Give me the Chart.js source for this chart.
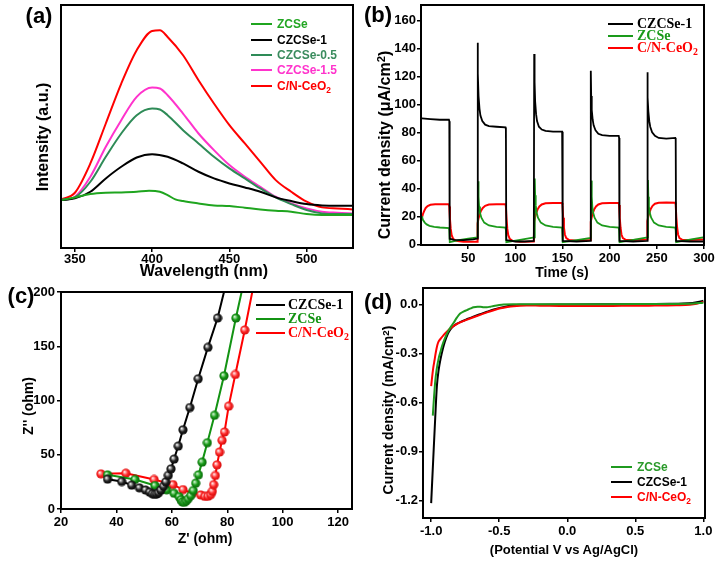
<!DOCTYPE html>
<html><head><meta charset="utf-8">
<script src="https://cdn.jsdelivr.net/npm/chart.js@4.4.0/dist/chart.umd.min.js"></script>
<style>
html,body{margin:0;padding:0;background:#fff;}
#wrap{position:relative;width:720px;height:561px;overflow:hidden;font-family:"Liberation Sans",Arial,sans-serif;color:#000;}
canvas{position:absolute;}
.t{position:absolute;white-space:nowrap;font-weight:bold;line-height:1;}
.ctr{transform:translate(-50%,-50%);}
.rot{transform:translate(-50%,-50%) rotate(-90deg);}
.lt{position:absolute;white-space:nowrap;font-weight:bold;line-height:1;transform:translateY(-50%);}
.ln{position:absolute;height:2px;}
sup{font-size:0.7em;vertical-align:0.45em;line-height:0;}
sub{font-size:0.7em;vertical-align:-0.3em;line-height:0;}
</style></head>
<body>
<div id="wrap">
<canvas id="ca" width="360" height="280" style="left:0;top:0"></canvas>
<canvas id="cb" width="360" height="280" style="left:360px;top:0"></canvas>
<canvas id="cc" width="360" height="281" style="left:0;top:280px"></canvas>
<canvas id="cd" width="360" height="281" style="left:360px;top:280px"></canvas>

<div class="t ctr" style="left:39px;top:16px;font-size:22px">(a)</div>
<div class="t rot" style="left:43px;top:137px;font-size:16px">Intensity (a.u.)</div>
<div class="t ctr" style="left:204px;top:271px;font-size:16px">Wavelength (nm)</div>

<div class="t ctr" style="left:378px;top:15px;font-size:22px">(b)</div>
<div class="t rot" style="left:385px;top:145px;font-size:16px">Current density (μA/cm<sup>2</sup>)</div>
<div class="t ctr" style="left:562px;top:272px;font-size:14px">Time (s)</div>

<div class="t ctr" style="left:21px;top:296px;font-size:22px">(c)</div>
<div class="t rot" style="left:28px;top:406px;font-size:14px">Z'' (ohm)</div>
<div class="t ctr" style="left:205px;top:538px;font-size:14px">Z' (ohm)</div>

<div class="t ctr" style="left:378px;top:302px;font-size:22px">(d)</div>
<div class="t rot" style="left:388px;top:410px;font-size:14px">Current density (mA/cm<sup>2</sup>)</div>
<div class="t ctr" style="left:564px;top:549px;font-size:13px">(Potential V vs Ag/AgCl)</div>
</div>
<script>
// ---------- Panel (a): PL spectra ----------
const aNames = ['ZCSe','CZCSe-1','CZCSe-0.5','CZCSe-1.5','C/N-CeO2'];
const aZCSe  = [[341,144],[350,152],[360,162],[370,166],[380,167],[390,169],[398,172],[405,169],[410,159],[415,146],[420,141],[430,134],[440,128],[450,126],[460,121],[470,116],[480,112],[490,109],[500,102],[510,99],[520,99],[530,99]];
const aCZCSe1 = [[341,144],[350,149],[360,169],[370,209],[380,244],[390,272],[400,282],[410,274],[420,254],[430,229],[440,209],[450,194],[460,182],[470,169],[480,152],[490,141],[500,132],[510,128],[520,127],[530,127]];
const aCZCSe05 = [[341,144],[350,152],[360,199],[370,274],[380,344],[390,399],[400,419],[405,416],[410,399],[420,354],[430,314],[440,274],[450,239],[460,209],[470,179],[480,152],[490,132],[500,114],[510,104],[520,102],[530,102]];
const aCZCSe15 = [[341,144],[350,154],[360,214],[370,304],[380,384],[390,454],[400,482],[405,479],[410,459],[420,404],[430,344],[440,294],[450,249],[460,214],[470,184],[480,154],[490,134],[500,119],[510,109],[520,106],[530,104]];
const aCeO2 = [[341,146],[350,166],[360,254],[370,374],[380,494],[390,594],[400,652],[405,654],[410,634],[420,579],[430,504],[440,434],[450,369],[460,314],[470,259],[480,204],[490,169],[500,139],[510,122],[520,119],[530,116]];
const aXTicks = [350,400,450,500];
const aXLabels = ['350','400','450','500'];

// ---------- Panel (b): photocurrent ----------
const bNames = ['CZCSe-1','ZCSe','C/N-CeO2'];
const bCZCSe1 = [[1,90],[10,89.5],[20,89],[29.6,89],[30,88],[30.4,4],[35,3.2],[45,3],[55,3.5],[59.6,4],
[60,144],[60.4,122],[61,106],[62,97],[63,92],[65,88],[68,85.5],[72,84.5],[80,84],[89.6,83.5],
[90,82],[90.4,3],[100,2],[110,2],[119.6,2.5],
[120,136],[120.4,116],[121,102],[122,93],[123,88],[125,84],[128,82],[132,81],[140,80.5],[149.6,80.5],
[150,79],[150.4,2.5],[165,2],[179.6,2.5],
[180,124],[180.4,106],[181,96],[182,89],[183,85],[185,81.5],[188,79],[192,78],[200,77.5],[209.6,77.5],
[210,76],[210.4,2.5],[225,2],[239.6,2.5],
[240,123],[240.4,105],[241,95],[242,88],[243,84],[245,80],[248,77.5],[252,76],[260,75.5],[269.6,76],
[270,75],[270.4,2.5],[285,2],[299,2]];
const bZCSe = [[1,20],[2,17.5],[4,15.5],[6,14.2],[9,13.2],[14,12.5],[20,12],[29.6,11.5],[30,10],[30.5,1.5],[40,3],[50,4],[60,5],
[60.6,45],[61,34],[61.6,27],[62.5,22.5],[64,19],[67,15.5],[72,13.5],[80,12.5],[89.6,12],[90,10],[90.5,1.5],[105,3.2],[120,5],
[120.6,47],[121,35],[121.6,28],[122.5,23],[124,19],[127,15.5],[132,13.5],[140,12.5],[149.6,12],[150,10],[150.5,1.5],[165,3],[180,4.5],
[180.6,45.5],[181,34],[181.6,27],[182.5,22.5],[184,19],[187,15.5],[192,13.5],[200,12.5],[209.6,12],[210,10],[210.5,1.5],[225,3.2],[240,5],
[240.6,46],[241,34],[241.6,27],[242.5,22.5],[244,19],[247,15.5],[252,13.5],[260,12.5],[269.6,12],[270,10],[270.5,1.5],[285,3.3],[299,5]];
const bCeO2 = [[1,19],[2,21.5],[3.5,24],[5,26],[7,27.3],[10,28.2],[15,28.6],[29.6,28.6],[30,27],[30.7,18],[31.5,11],[32.5,6.5],[34,4],[37,2.5],[45,1.8],[59.6,1.8],
[60,15],[61,18.5],[62,21],[63.5,23.8],[65.5,26],[68,27.5],[72,28.4],[80,28.7],[89.6,28.7],[90,27],[90.7,18],[91.5,11],[92.5,6.5],[94,4],[97,2.5],[105,1.8],[119.6,2],
[120,16],[121,19.5],[122,22],[123.5,24.8],[125.5,27],[128,28.5],[132,29.3],[140,29.6],[149.6,29.5],[150,28],[150.7,19],[151.5,12],[152.5,7],[154,4.5],[157,3],[165,2.5],[179.6,3],
[180,16],[181,19.5],[182,22],[183.5,24.8],[185.5,27],[188,28.5],[192,29.3],[200,29.6],[209.6,29.5],[210,28],[210.7,19],[211.5,12],[212.5,7],[214,4.5],[217,3.2],[225,3],[239.6,3.5],
[240,16.5],[241,20],[242,22.5],[243.5,25.2],[245.5,27.5],[248,29],[252,29.7],[260,29.9],[269.6,29.7],[270,28],[270.7,19],[271.5,12],[272.5,7],[274,4.5],[277,3.2],[285,3],[299,3.5]];
const bXTicks = [50,100,150,200,250,300];
const bXLabels = ['50','100','150','200','250','300'];
const bYTicks = [0,20,40,60,80,100,120,140,160];
const bYLabels = ['0','20','40','60','80','100','120','140','160'];

// ---------- Panel (c): Nyquist ----------
const cNames = ['CZCSe-1','ZCSe','C/N-CeO2'];
const cCZCSe1 = [[36.8,27.5],[41.9,25.3],[45.5,22],[48.3,19.5],[50.5,17.5],[52,15.5],[53,14],[53.8,13.5],[54.5,13.8],[55.2,15],[56,17.5],[57,21],[57.8,25],[58.7,31],[59.7,37],[60.8,46],[62.3,58],[64,73],[66.5,93.5],[69.5,120],[73,149],[76.5,176],[79.3,205]];
const cZCSe = [[36.8,31.5],[46.7,27.2],[53.9,21.6],[58.1,17.6],[60.8,14.5],[62.6,11.4],[63.3,8.5],[63.8,6.5],[64.5,6.2],[65.2,7.5],[65.9,9.5],[66.8,12.3],[67.7,17],[68.6,23.8],[69.6,31.5],[70.9,43.2],[72.8,61.1],[75.4,86.4],[78.8,122.8],[83.1,176],[85.6,205]];
const cCeO2 = [[34.4,32.4],[43.4,33],[53.6,27.2],[60.4,22.5],[64,17.9],[67.4,14.5],[70.4,13],[71.9,11.6],[73,11.7],[74,13.3],[74.6,16.4],[75.1,22.5],[75.7,30.9],[76.3,40.7],[77.2,52.5],[78.1,63.3],[79,71],[80.5,94.8],[82.9,124],[86.3,165],[89.4,205]];
const cXTicks = [20,40,60,80,100,120];
const cXLabels = ['20','40','60','80','100','120'];
const cYTicks = [0,50,100,150,200];
const cYLabels = ['0','50','100','150','200'];

// ---------- Panel (d): LSV ----------
const dNames = ['ZCSe','CZCSe-1','C/N-CeO2'];
const dZCSe = [[-0.988,-0.68],[-0.98,-0.58],[-0.97,-0.47],[-0.96,-0.4],[-0.945,-0.33],[-0.93,-0.285],[-0.92,-0.255],[-0.9,-0.21],[-0.88,-0.172],[-0.86,-0.143],[-0.836,-0.114],[-0.81,-0.08],[-0.787,-0.056],[-0.76,-0.043],[-0.738,-0.035],[-0.71,-0.025],[-0.689,-0.018],[-0.66,-0.014],[-0.64,-0.014],[-0.615,-0.017],[-0.59,-0.018],[-0.565,-0.014],[-0.542,-0.01],[-0.5,-0.004],[-0.468,-0.001],[-0.4,0],[0,0],[0.5,0.002],[0.9,0.004],[1.0,0.01]];
const dCZCSe1 = [[-1.0,-1.215],[-0.985,-0.95],[-0.97,-0.69],[-0.958,-0.5],[-0.945,-0.4],[-0.93,-0.33],[-0.915,-0.275],[-0.9,-0.23],[-0.88,-0.185],[-0.86,-0.155],[-0.84,-0.136],[-0.81,-0.118],[-0.78,-0.106],[-0.74,-0.092],[-0.69,-0.075],[-0.64,-0.06],[-0.59,-0.045],[-0.54,-0.031],[-0.49,-0.02],[-0.44,-0.011],[-0.4,-0.006],[-0.35,-0.003],[-0.25,-0.002],[0,-0.001],[0.25,0],[0.5,0.001],[0.75,0.003],[0.85,0.005],[0.92,0.009],[0.96,0.014],[1.0,0.022]];
const dCeO2 = [[-1.0,-0.5],[-0.995,-0.46],[-0.985,-0.39],[-0.975,-0.34],[-0.965,-0.29],[-0.955,-0.25],[-0.946,-0.228],[-0.93,-0.21],[-0.909,-0.188],[-0.885,-0.167],[-0.86,-0.147],[-0.825,-0.127],[-0.787,-0.11],[-0.74,-0.095],[-0.689,-0.079],[-0.64,-0.064],[-0.59,-0.049],[-0.54,-0.036],[-0.49,-0.024],[-0.44,-0.016],[-0.395,-0.011],[-0.3,-0.007],[-0.2,-0.008],[0,-0.01],[0.2,-0.01],[0.4,-0.009],[0.6,-0.008],[0.8,-0.006],[0.9,-0.003],[0.95,0.003],[1.0,0.015]];
const dXTicks = [-1.0,-0.5,0,0.5,1.0];
const dXLabels = ['-1.0','-0.5','0.0','0.5','1.0'];
const dYTicks = [0,-0.3,-0.6,-0.9,-1.2];
const dYLabels = ['0.0','-0.3','-0.6','-0.9','-1.2'];

// ---------- helpers ----------
const SANS = '"Liberation Sans", Arial, sans-serif';
const SERIF = '"Liberation Serif", "Times New Roman", serif';
const RED = '#ff0000', BLACK = '#000000';
const framePlugin = {id:'frame', afterDatasetsDraw(c){const a=c.chartArea,x=c.ctx;x.save();x.strokeStyle='#000';x.lineWidth=2;x.strokeRect(a.left,a.top,a.right-a.left,a.bottom-a.top);x.restore();}};
const xy = arr => arr.map(p => ({x:p[0], y:p[1]}));
function fitTo(size, horiz){return s=>{ if(horiz) s.height=size; else s.width=size; s.paddingTop=0;s.paddingBottom=0;s.paddingLeft=0;s.paddingRight=0; };}
function setTicks(vals){return s=>{ s.ticks = vals.map(v=>({value:v})); };}
const gridOpt = {display:true,drawOnChartArea:false,drawTicks:true,tickLength:4,color:'#000',lineWidth:1.5};
function axis(min,max,vals,labels,size,horiz,fs,pad){
  return {type:'linear',min,max,afterBuildTicks:setTicks(vals),afterFit:fitTo(size,horiz),grid:gridOpt,border:{display:false},
    ticks:{autoSkip:false,maxRotation:0,padding:pad,color:'#000',font:{family:SANS,size:fs,weight:'bold'},callback:(v,i)=>labels[i]}};
}
function opts(pad, scales){return {responsive:false,animation:false,devicePixelRatio:1,events:[],layout:{padding:pad},
  plugins:{legend:{display:false},tooltip:{enabled:false}},scales};}
function lineDs(data,color,tension,w){return {data:xy(data),borderColor:color,backgroundColor:color,borderWidth:w||2,showLine:true,pointRadius:0,tension:tension,cubicInterpolationMode:tension?'monotone':'default'};}
function sphere(base, light, dark){const c=document.createElement('canvas');c.width=c.height=10;const g=c.getContext('2d');
  const gr=g.createRadialGradient(3.6,3.6,0.2,5,5,5.2);gr.addColorStop(0,light);gr.addColorStop(0.5,base);gr.addColorStop(1,dark);
  g.fillStyle=gr;g.beginPath();g.arc(5,5,4.6,0,Math.PI*2);g.fill();return c;}
function subHTML(s){return s.replace('CeO2','CeO<sub>2</sub>');}
function legend(names, colors, textColors, x0, x1, tx, ys, fs, fam){
  const w=document.getElementById('wrap');
  names.forEach((n,i)=>{
    const l=document.createElement('div');l.className='ln';l.style.left=x0+'px';l.style.width=(x1-x0)+'px';l.style.top=(ys[i]-1)+'px';l.style.background=colors[i];w.appendChild(l);
    const t=document.createElement('div');t.className='lt';t.style.left=tx+'px';t.style.top=ys[i]+'px';t.style.fontSize=fs+'px';t.style.fontFamily=fam;t.style.color=textColors[i];t.innerHTML=subHTML(n);w.appendChild(t);
  });
}

// ---------- (a) ----------
const aColors = ['#1fa51f','#000000','#2e8b57','#ff33cc','#ff0000'];
new Chart(document.getElementById('ca'),{type:'scatter',
  data:{datasets:[lineDs(aZCSe,aColors[0],0.4),lineDs(aCZCSe1,aColors[1],0.4),lineDs(aCZCSe05,aColors[2],0.4),lineDs(aCZCSe15,aColors[3],0.4),lineDs(aCeO2,aColors[4],0.4)]},
  options:opts({left:61,top:5,right:7,bottom:0},{x:axis(341,530,aXTicks,aXLabels,32,true,13,0),y:{type:'linear',display:false,min:0,max:730}}),
  plugins:[framePlugin]});
legend(aNames,aColors,['#22a622','#000','#3b8c5e','#ff33cc','#ff0000'],251,272,277,[24,40,55,70,86],12,SANS);

// ---------- (b) ----------
const bColors = [BLACK,'#1a9a1a',RED];
new Chart(document.getElementById('cb'),{type:'scatter',
  data:{datasets:[lineDs(bCZCSe1,bColors[0],0,1.8),lineDs(bZCSe,bColors[1],0,1.8),lineDs(bCeO2,bColors[2],0,2)]},
  options:opts({left:0,top:5,right:16,bottom:15},{x:axis(0,300,bXTicks,bXLabels,20,true,13,2),y:axis(-0.5,171,bYTicks,bYLabels,61,false,13,1)}),
  plugins:[framePlugin]});
legend(bNames,bColors,['#000','#1a9a1a','#ff0000'],608,633,637,[24,36,48],14,SERIF);

// ---------- (c) ----------
const cColors = [BLACK,'#139313',RED];
const cImgs = [sphere('#222','#ffffff','#000'),sphere('#159a15','#d8f7d8','#0a5a0a'),sphere('#ff2a2a','#fff4f4','#c80000')];
function sphDs(data,color,img){const d=lineDs(data,color,0,2);d.pointRadius=4.5;d.pointStyle=img;return d;}
new Chart(document.getElementById('cc'),{type:'scatter',
  data:{datasets:[sphDs(cCZCSe1,cColors[0],cImgs[0]),sphDs(cZCSe,cColors[1],cImgs[1]),sphDs(cCeO2,cColors[2],cImgs[2])]},
  options:opts({left:0,top:12,right:8,bottom:22},{x:axis(20,125,cXTicks,cXLabels,30,true,13,2),y:axis(0,200,cYTicks,cYLabels,61,false,13,2)}),
  plugins:[framePlugin]});
legend(cNames,cColors,['#000','#139313','#ff0000'],256,285,288,[305,319,333],14,SERIF);

// ---------- (d) ----------
const dColors = ['#1f9a1f',BLACK,RED];
new Chart(document.getElementById('cd'),{type:'scatter',
  data:{datasets:[lineDs(dZCSe,dColors[0],0.3),lineDs(dCeO2,dColors[2],0.3),lineDs(dCZCSe1,dColors[1],0.3)]},
  options:opts({left:0,top:8,right:15,bottom:13},{x:axis(-1.06,1.012,dXTicks,dXLabels,30,true,13,2),y:axis(-1.306,0.1,dYTicks,dYLabels,63,false,13,1)}),
  plugins:[framePlugin]});
legend(dNames,dColors,['#2a9a2a','#000','#ff0000'],611,632,637,[467,482,497],12,SANS);
</script>
</body></html>
